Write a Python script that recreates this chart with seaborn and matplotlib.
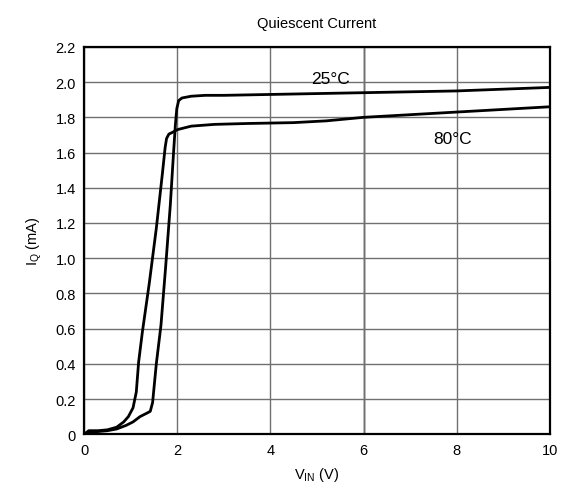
import numpy as np
import pandas as pd
import matplotlib
matplotlib.use("Agg")
import matplotlib.pyplot as plt
import seaborn as sns

# values (V_IN in volts, I_Q in mA)
vin_25 = [0.0, 0.1, 0.3, 0.5, 0.7, 0.9, 1.05, 1.2, 1.35, 1.42, 1.47, 1.55, 1.65,
          1.75, 1.85, 1.92, 1.96, 1.99, 2.03, 2.1, 2.3, 2.6, 3.0, 4.0, 6.0, 8.0, 10.0]
iq_25 = [0.0, 0.01, 0.015, 0.02, 0.03, 0.05, 0.07, 0.10, 0.12, 0.13, 0.18, 0.40, 0.62,
         0.95, 1.30, 1.60, 1.76, 1.85, 1.895, 1.91, 1.92, 1.925, 1.925, 1.93, 1.94, 1.95, 1.97]

vin_80 = [0.0, 0.1, 0.3, 0.5, 0.7, 0.85, 0.95, 1.05, 1.12, 1.17, 1.25, 1.4, 1.55,
          1.68, 1.74, 1.77, 1.82, 1.9, 2.0, 2.3, 2.8, 3.5, 4.5, 5.2, 6.0, 8.0, 10.0]
iq_80 = [0.0, 0.02, 0.02, 0.025, 0.04, 0.07, 0.10, 0.15, 0.24, 0.41, 0.58, 0.86, 1.17,
         1.48, 1.63, 1.68, 1.705, 1.715, 1.73, 1.75, 1.76, 1.765, 1.77, 1.78, 1.80, 1.83, 1.86]

y_ticks = [0, 0.2, 0.4, 0.6, 0.8, 1.0, 1.2, 1.4, 1.6, 1.8, 2.0, 2.2]
x_ticks = [0, 2, 4, 6, 8, 10]

df = pd.concat([
    pd.DataFrame({"vin": vin_25, "iq": iq_25, "temp": "25°C"}),
    pd.DataFrame({"vin": vin_80, "iq": iq_80, "temp": "80°C"}),
])

sns.set_style("white")
plt.rcParams["font.family"] = ["Liberation Sans", "DejaVu Sans"]
plt.rcParams["text.color"] = "black"
plt.rcParams["axes.labelcolor"] = "black"
plt.rcParams["xtick.color"] = "black"
plt.rcParams["ytick.color"] = "black"

fig = plt.figure(figsize=(5.61, 4.89), dpi=100)
ax = fig.add_axes([0.150, 0.110, 0.830, 0.792])

sns.lineplot(data=df, x="vin", y="iq", units="temp", estimator=None, sort=False,
             color="black", linewidth=2.0, ax=ax)

ax.set_xlim(0, 10)
ax.set_ylim(0, 2.2)
ax.set_xticks(x_ticks)
ax.set_yticks(y_ticks)
ax.set_yticklabels(["0"] + [f"{v:.1f}" for v in y_ticks[1:]])
ax.set_xticklabels([str(v) for v in x_ticks])
ax.tick_params(length=0, labelsize=10.5, pad=6)
ax.grid(True, color="#707070", linewidth=1.0)
ax.axvline(6, color="black", linewidth=1.0, zorder=0.5)
for s in ax.spines.values():
    s.set_color("black")
    s.set_linewidth(1.6)

ax.set_xlabel("V$_{\\mathregular{IN}}$ (V)", fontsize=10.5, labelpad=6)
ax.set_ylabel("I$_{\\mathregular{Q}}$ (mA)", fontsize=10.5, labelpad=8)
ax.set_title("Quiescent Current", fontsize=10.5, pad=14)

ax.text(5.28, 2.02, "25°C", fontsize=12.5, ha="center", va="center")
ax.text(7.92, 1.68, "80°C", fontsize=12.5, ha="center", va="center")

fig.savefig("out.png", dpi=100)
